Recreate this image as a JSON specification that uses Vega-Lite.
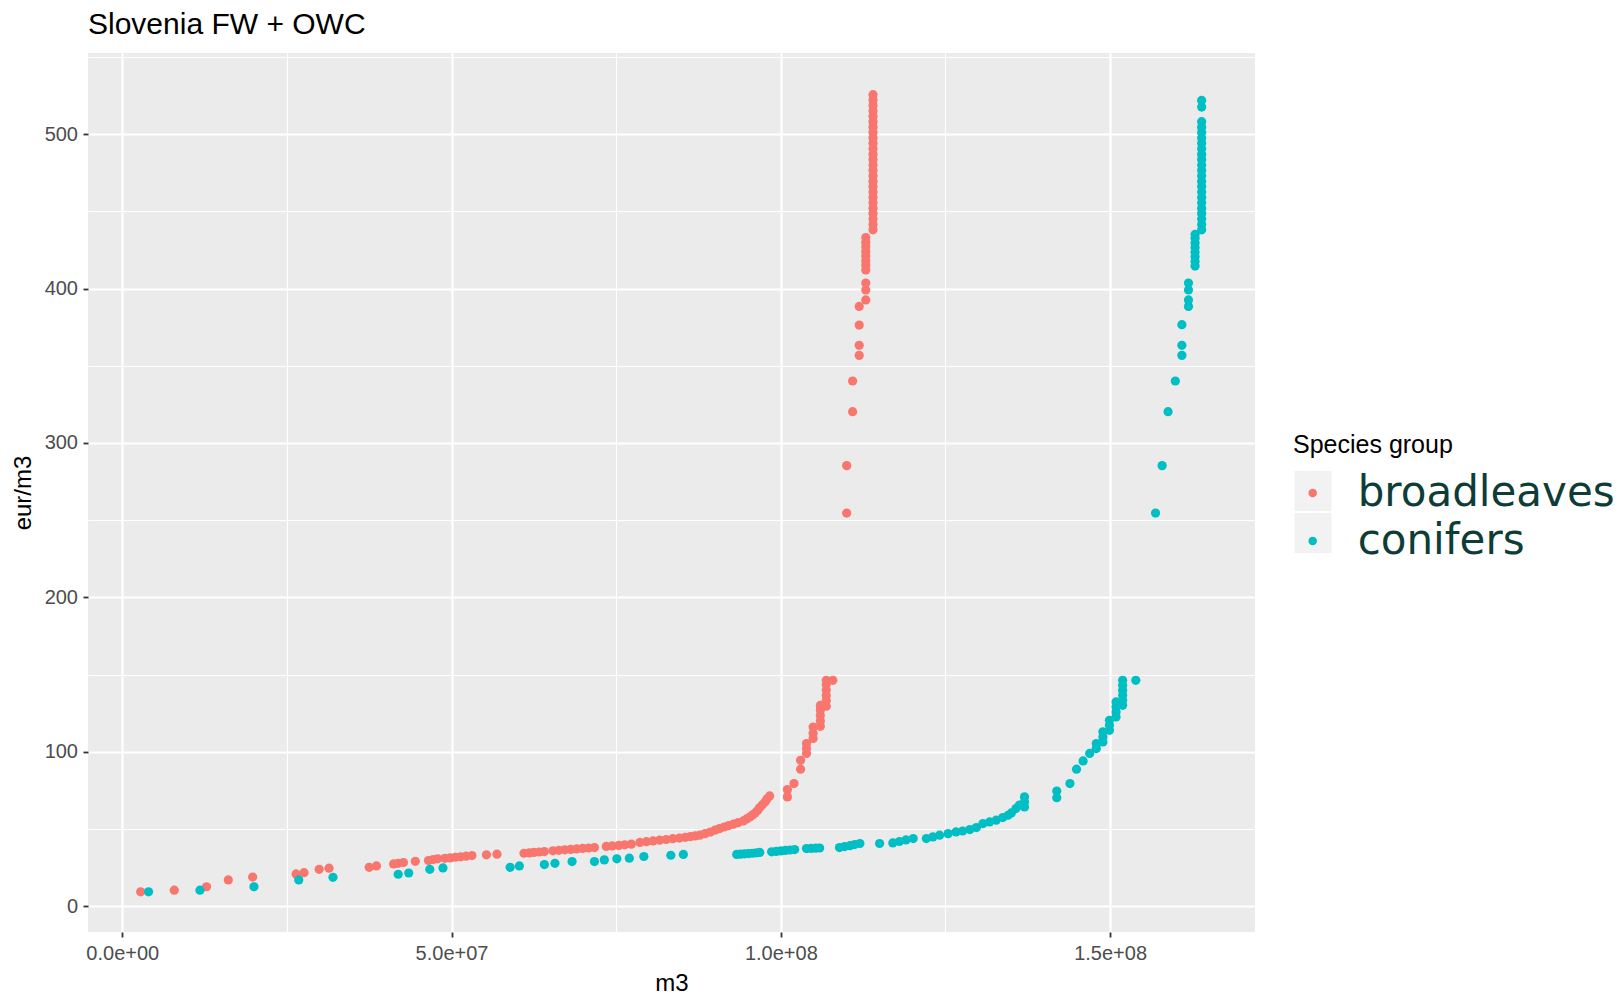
{
  "$schema": "https://vega.github.io/schema/vega-lite/v6.json",
  "width": 1167,
  "height": 879,
  "autosize": {"type": "none"},
  "padding": {"left": 88, "top": 53, "right": 369, "bottom": 64},
  "background": "white",
  "view": {"fill": "#EBEBEB", "stroke": null},
  "title": {"text": "Slovenia FW + OWC", "anchor": "start", "frame": "group", "orient": "top", "offset": -11, "baseline": "alphabetic", "font": "Liberation Sans", "fontSize": 30, "fontWeight": "normal", "color": "#000000"},
  "datasets": {
    "keys": [{"key": "broadleaves"}, {"key": "conifers"}],
    "pts": [
      {"species": "broadleaves", "m3": 2800000, "eur_m3": 9.3},
      {"species": "broadleaves", "m3": 7900000, "eur_m3": 10.4},
      {"species": "broadleaves", "m3": 12800000, "eur_m3": 12.6},
      {"species": "broadleaves", "m3": 16100000, "eur_m3": 17.0},
      {"species": "broadleaves", "m3": 19800000, "eur_m3": 18.9},
      {"species": "broadleaves", "m3": 26400000, "eur_m3": 20.9},
      {"species": "broadleaves", "m3": 27600000, "eur_m3": 21.7},
      {"species": "broadleaves", "m3": 29900000, "eur_m3": 23.9},
      {"species": "broadleaves", "m3": 31400000, "eur_m3": 24.6},
      {"species": "broadleaves", "m3": 37500000, "eur_m3": 25.2},
      {"species": "broadleaves", "m3": 38600000, "eur_m3": 26.1},
      {"species": "broadleaves", "m3": 41200000, "eur_m3": 27.4},
      {"species": "broadleaves", "m3": 41900000, "eur_m3": 27.8},
      {"species": "broadleaves", "m3": 42700000, "eur_m3": 28.3},
      {"species": "broadleaves", "m3": 44500000, "eur_m3": 29.1},
      {"species": "broadleaves", "m3": 46500000, "eur_m3": 29.6},
      {"species": "broadleaves", "m3": 47200000, "eur_m3": 30.2},
      {"species": "broadleaves", "m3": 47900000, "eur_m3": 30.7},
      {"species": "broadleaves", "m3": 49000000, "eur_m3": 31.0},
      {"species": "broadleaves", "m3": 49800000, "eur_m3": 31.3},
      {"species": "broadleaves", "m3": 50600000, "eur_m3": 31.7},
      {"species": "broadleaves", "m3": 51400000, "eur_m3": 32.0},
      {"species": "broadleaves", "m3": 52200000, "eur_m3": 32.4},
      {"species": "broadleaves", "m3": 53100000, "eur_m3": 32.8},
      {"species": "broadleaves", "m3": 55300000, "eur_m3": 33.3},
      {"species": "broadleaves", "m3": 56900000, "eur_m3": 33.7},
      {"species": "broadleaves", "m3": 61000000, "eur_m3": 34.3},
      {"species": "broadleaves", "m3": 61800000, "eur_m3": 34.5},
      {"species": "broadleaves", "m3": 62500000, "eur_m3": 34.8},
      {"species": "broadleaves", "m3": 63300000, "eur_m3": 35.1},
      {"species": "broadleaves", "m3": 64100000, "eur_m3": 35.4},
      {"species": "broadleaves", "m3": 65400000, "eur_m3": 35.9},
      {"species": "broadleaves", "m3": 66300000, "eur_m3": 36.2},
      {"species": "broadleaves", "m3": 67200000, "eur_m3": 36.5},
      {"species": "broadleaves", "m3": 68100000, "eur_m3": 36.8},
      {"species": "broadleaves", "m3": 69000000, "eur_m3": 37.1},
      {"species": "broadleaves", "m3": 69900000, "eur_m3": 37.4},
      {"species": "broadleaves", "m3": 70800000, "eur_m3": 37.7},
      {"species": "broadleaves", "m3": 71700000, "eur_m3": 38.0},
      {"species": "broadleaves", "m3": 73500000, "eur_m3": 38.7},
      {"species": "broadleaves", "m3": 74400000, "eur_m3": 39.0},
      {"species": "broadleaves", "m3": 75400000, "eur_m3": 39.4},
      {"species": "broadleaves", "m3": 76300000, "eur_m3": 39.8},
      {"species": "broadleaves", "m3": 77300000, "eur_m3": 40.2},
      {"species": "broadleaves", "m3": 78600000, "eur_m3": 41.3},
      {"species": "broadleaves", "m3": 79600000, "eur_m3": 41.8},
      {"species": "broadleaves", "m3": 80600000, "eur_m3": 42.3},
      {"species": "broadleaves", "m3": 81600000, "eur_m3": 42.8},
      {"species": "broadleaves", "m3": 82600000, "eur_m3": 43.2},
      {"species": "broadleaves", "m3": 83600000, "eur_m3": 43.7},
      {"species": "broadleaves", "m3": 84600000, "eur_m3": 44.1},
      {"species": "broadleaves", "m3": 85500000, "eur_m3": 44.6},
      {"species": "broadleaves", "m3": 86300000, "eur_m3": 45.1},
      {"species": "broadleaves", "m3": 87000000, "eur_m3": 45.5},
      {"species": "broadleaves", "m3": 87700000, "eur_m3": 46.0},
      {"species": "broadleaves", "m3": 88500000, "eur_m3": 47.0},
      {"species": "broadleaves", "m3": 89300000, "eur_m3": 48.0},
      {"species": "broadleaves", "m3": 90000000, "eur_m3": 49.2},
      {"species": "broadleaves", "m3": 90700000, "eur_m3": 50.3},
      {"species": "broadleaves", "m3": 91400000, "eur_m3": 51.3},
      {"species": "broadleaves", "m3": 92100000, "eur_m3": 52.2},
      {"species": "broadleaves", "m3": 92800000, "eur_m3": 53.1},
      {"species": "broadleaves", "m3": 93500000, "eur_m3": 54.1},
      {"species": "broadleaves", "m3": 94300000, "eur_m3": 55.2},
      {"species": "broadleaves", "m3": 94800000, "eur_m3": 56.5},
      {"species": "broadleaves", "m3": 95300000, "eur_m3": 57.8},
      {"species": "broadleaves", "m3": 95700000, "eur_m3": 59.1},
      {"species": "broadleaves", "m3": 96100000, "eur_m3": 60.4},
      {"species": "broadleaves", "m3": 96500000, "eur_m3": 62.1},
      {"species": "broadleaves", "m3": 96800000, "eur_m3": 63.9},
      {"species": "broadleaves", "m3": 97200000, "eur_m3": 65.7},
      {"species": "broadleaves", "m3": 97600000, "eur_m3": 67.5},
      {"species": "broadleaves", "m3": 97900000, "eur_m3": 69.5},
      {"species": "broadleaves", "m3": 98300000, "eur_m3": 71.4},
      {"species": "broadleaves", "m3": 101000000, "eur_m3": 70.8},
      {"species": "broadleaves", "m3": 101000000, "eur_m3": 75.5},
      {"species": "broadleaves", "m3": 102000000, "eur_m3": 79.4},
      {"species": "broadleaves", "m3": 103000000, "eur_m3": 88.7},
      {"species": "broadleaves", "m3": 103000000, "eur_m3": 94.5},
      {"species": "broadleaves", "m3": 103900000, "eur_m3": 98.9},
      {"species": "broadleaves", "m3": 103900000, "eur_m3": 102.1},
      {"species": "broadleaves", "m3": 103900000, "eur_m3": 105.3},
      {"species": "broadleaves", "m3": 104900000, "eur_m3": 108.6},
      {"species": "broadleaves", "m3": 104900000, "eur_m3": 112.0},
      {"species": "broadleaves", "m3": 104900000, "eur_m3": 116.0},
      {"species": "broadleaves", "m3": 106000000, "eur_m3": 116.5},
      {"species": "broadleaves", "m3": 106000000, "eur_m3": 120.0},
      {"species": "broadleaves", "m3": 106000000, "eur_m3": 123.5},
      {"species": "broadleaves", "m3": 106000000, "eur_m3": 127.0},
      {"species": "broadleaves", "m3": 106000000, "eur_m3": 130.0},
      {"species": "broadleaves", "m3": 106900000, "eur_m3": 129.5},
      {"species": "broadleaves", "m3": 106900000, "eur_m3": 133.0},
      {"species": "broadleaves", "m3": 106900000, "eur_m3": 136.5},
      {"species": "broadleaves", "m3": 106900000, "eur_m3": 140.0},
      {"species": "broadleaves", "m3": 106900000, "eur_m3": 143.5},
      {"species": "broadleaves", "m3": 106900000, "eur_m3": 146.3},
      {"species": "broadleaves", "m3": 107900000, "eur_m3": 146.3},
      {"species": "broadleaves", "m3": 110000000, "eur_m3": 254.6},
      {"species": "broadleaves", "m3": 110000000, "eur_m3": 285.3},
      {"species": "broadleaves", "m3": 110900000, "eur_m3": 320.2},
      {"species": "broadleaves", "m3": 110900000, "eur_m3": 340.1},
      {"species": "broadleaves", "m3": 111900000, "eur_m3": 356.7},
      {"species": "broadleaves", "m3": 111900000, "eur_m3": 363.2},
      {"species": "broadleaves", "m3": 111900000, "eur_m3": 376.3},
      {"species": "broadleaves", "m3": 111900000, "eur_m3": 388.4},
      {"species": "broadleaves", "m3": 112900000, "eur_m3": 392.6},
      {"species": "broadleaves", "m3": 112900000, "eur_m3": 399.1},
      {"species": "broadleaves", "m3": 112900000, "eur_m3": 403.5},
      {"species": "broadleaves", "m3": 112900000, "eur_m3": 412.0},
      {"species": "broadleaves", "m3": 112900000, "eur_m3": 415.0},
      {"species": "broadleaves", "m3": 112900000, "eur_m3": 418.0},
      {"species": "broadleaves", "m3": 112900000, "eur_m3": 421.0},
      {"species": "broadleaves", "m3": 112900000, "eur_m3": 424.0},
      {"species": "broadleaves", "m3": 112900000, "eur_m3": 427.0},
      {"species": "broadleaves", "m3": 112900000, "eur_m3": 430.0},
      {"species": "broadleaves", "m3": 112900000, "eur_m3": 433.0},
      {"species": "broadleaves", "m3": 114000000, "eur_m3": 438.0},
      {"species": "broadleaves", "m3": 114000000, "eur_m3": 441.5},
      {"species": "broadleaves", "m3": 114000000, "eur_m3": 445.0},
      {"species": "broadleaves", "m3": 114000000, "eur_m3": 448.5},
      {"species": "broadleaves", "m3": 114000000, "eur_m3": 452.0},
      {"species": "broadleaves", "m3": 114000000, "eur_m3": 455.5},
      {"species": "broadleaves", "m3": 114000000, "eur_m3": 459.0},
      {"species": "broadleaves", "m3": 114000000, "eur_m3": 462.5},
      {"species": "broadleaves", "m3": 114000000, "eur_m3": 466.0},
      {"species": "broadleaves", "m3": 114000000, "eur_m3": 469.5},
      {"species": "broadleaves", "m3": 114000000, "eur_m3": 473.0},
      {"species": "broadleaves", "m3": 114000000, "eur_m3": 476.5},
      {"species": "broadleaves", "m3": 114000000, "eur_m3": 480.0},
      {"species": "broadleaves", "m3": 114000000, "eur_m3": 483.5},
      {"species": "broadleaves", "m3": 114000000, "eur_m3": 487.0},
      {"species": "broadleaves", "m3": 114000000, "eur_m3": 490.5},
      {"species": "broadleaves", "m3": 114000000, "eur_m3": 494.0},
      {"species": "broadleaves", "m3": 114000000, "eur_m3": 497.5},
      {"species": "broadleaves", "m3": 114000000, "eur_m3": 501.0},
      {"species": "broadleaves", "m3": 114000000, "eur_m3": 504.5},
      {"species": "broadleaves", "m3": 114000000, "eur_m3": 508.0},
      {"species": "broadleaves", "m3": 114000000, "eur_m3": 511.5},
      {"species": "broadleaves", "m3": 114000000, "eur_m3": 515.0},
      {"species": "broadleaves", "m3": 114000000, "eur_m3": 518.5},
      {"species": "broadleaves", "m3": 114000000, "eur_m3": 522.0},
      {"species": "broadleaves", "m3": 114000000, "eur_m3": 525.5},
      {"species": "conifers", "m3": 4000000, "eur_m3": 9.3},
      {"species": "conifers", "m3": 11800000, "eur_m3": 10.4},
      {"species": "conifers", "m3": 20000000, "eur_m3": 12.6},
      {"species": "conifers", "m3": 26800000, "eur_m3": 17.0},
      {"species": "conifers", "m3": 32000000, "eur_m3": 18.7},
      {"species": "conifers", "m3": 41900000, "eur_m3": 20.7},
      {"species": "conifers", "m3": 43500000, "eur_m3": 21.5},
      {"species": "conifers", "m3": 46700000, "eur_m3": 23.9},
      {"species": "conifers", "m3": 48700000, "eur_m3": 24.8},
      {"species": "conifers", "m3": 58900000, "eur_m3": 25.2},
      {"species": "conifers", "m3": 60300000, "eur_m3": 26.1},
      {"species": "conifers", "m3": 64100000, "eur_m3": 27.0},
      {"species": "conifers", "m3": 65700000, "eur_m3": 27.8},
      {"species": "conifers", "m3": 68300000, "eur_m3": 28.9},
      {"species": "conifers", "m3": 71700000, "eur_m3": 28.9},
      {"species": "conifers", "m3": 73200000, "eur_m3": 30.0},
      {"species": "conifers", "m3": 75100000, "eur_m3": 30.7},
      {"species": "conifers", "m3": 77000000, "eur_m3": 31.1},
      {"species": "conifers", "m3": 79200000, "eur_m3": 32.2},
      {"species": "conifers", "m3": 83300000, "eur_m3": 33.0},
      {"species": "conifers", "m3": 85200000, "eur_m3": 33.5},
      {"species": "conifers", "m3": 93300000, "eur_m3": 33.5},
      {"species": "conifers", "m3": 93900000, "eur_m3": 33.7},
      {"species": "conifers", "m3": 94500000, "eur_m3": 33.9},
      {"species": "conifers", "m3": 95100000, "eur_m3": 34.1},
      {"species": "conifers", "m3": 95700000, "eur_m3": 34.3},
      {"species": "conifers", "m3": 96300000, "eur_m3": 34.6},
      {"species": "conifers", "m3": 96800000, "eur_m3": 34.8},
      {"species": "conifers", "m3": 98600000, "eur_m3": 35.2},
      {"species": "conifers", "m3": 99300000, "eur_m3": 35.5},
      {"species": "conifers", "m3": 100000000, "eur_m3": 35.8},
      {"species": "conifers", "m3": 100700000, "eur_m3": 36.1},
      {"species": "conifers", "m3": 101400000, "eur_m3": 36.4},
      {"species": "conifers", "m3": 102100000, "eur_m3": 36.7},
      {"species": "conifers", "m3": 103900000, "eur_m3": 37.3},
      {"species": "conifers", "m3": 104600000, "eur_m3": 37.4},
      {"species": "conifers", "m3": 105300000, "eur_m3": 37.6},
      {"species": "conifers", "m3": 105900000, "eur_m3": 37.7},
      {"species": "conifers", "m3": 108900000, "eur_m3": 38.0},
      {"species": "conifers", "m3": 109700000, "eur_m3": 38.6},
      {"species": "conifers", "m3": 110500000, "eur_m3": 39.2},
      {"species": "conifers", "m3": 111200000, "eur_m3": 39.9},
      {"species": "conifers", "m3": 112000000, "eur_m3": 40.6},
      {"species": "conifers", "m3": 115000000, "eur_m3": 40.6},
      {"species": "conifers", "m3": 117000000, "eur_m3": 41.0},
      {"species": "conifers", "m3": 118000000, "eur_m3": 41.9},
      {"species": "conifers", "m3": 119000000, "eur_m3": 42.9},
      {"species": "conifers", "m3": 120100000, "eur_m3": 43.8},
      {"species": "conifers", "m3": 122100000, "eur_m3": 43.8},
      {"species": "conifers", "m3": 123100000, "eur_m3": 44.9},
      {"species": "conifers", "m3": 124100000, "eur_m3": 46.0},
      {"species": "conifers", "m3": 125400000, "eur_m3": 47.0},
      {"species": "conifers", "m3": 126600000, "eur_m3": 48.1},
      {"species": "conifers", "m3": 127600000, "eur_m3": 48.7},
      {"species": "conifers", "m3": 128700000, "eur_m3": 49.6},
      {"species": "conifers", "m3": 129700000, "eur_m3": 50.9},
      {"species": "conifers", "m3": 130700000, "eur_m3": 53.5},
      {"species": "conifers", "m3": 131700000, "eur_m3": 54.6},
      {"species": "conifers", "m3": 132700000, "eur_m3": 55.7},
      {"species": "conifers", "m3": 133700000, "eur_m3": 57.4},
      {"species": "conifers", "m3": 134500000, "eur_m3": 58.9},
      {"species": "conifers", "m3": 135000000, "eur_m3": 60.4},
      {"species": "conifers", "m3": 135700000, "eur_m3": 63.2},
      {"species": "conifers", "m3": 136200000, "eur_m3": 65.4},
      {"species": "conifers", "m3": 137000000, "eur_m3": 64.3},
      {"species": "conifers", "m3": 137000000, "eur_m3": 67.5},
      {"species": "conifers", "m3": 137000000, "eur_m3": 70.8},
      {"species": "conifers", "m3": 141900000, "eur_m3": 70.3},
      {"species": "conifers", "m3": 141900000, "eur_m3": 74.6},
      {"species": "conifers", "m3": 143900000, "eur_m3": 79.4},
      {"species": "conifers", "m3": 144900000, "eur_m3": 88.7},
      {"species": "conifers", "m3": 145900000, "eur_m3": 94.1},
      {"species": "conifers", "m3": 146900000, "eur_m3": 98.9},
      {"species": "conifers", "m3": 147900000, "eur_m3": 102.1},
      {"species": "conifers", "m3": 147900000, "eur_m3": 105.3},
      {"species": "conifers", "m3": 148900000, "eur_m3": 106.4},
      {"species": "conifers", "m3": 148900000, "eur_m3": 109.6},
      {"species": "conifers", "m3": 148900000, "eur_m3": 112.9},
      {"species": "conifers", "m3": 149900000, "eur_m3": 113.9},
      {"species": "conifers", "m3": 149900000, "eur_m3": 117.2},
      {"species": "conifers", "m3": 149900000, "eur_m3": 120.4},
      {"species": "conifers", "m3": 150900000, "eur_m3": 122.6},
      {"species": "conifers", "m3": 150900000, "eur_m3": 125.8},
      {"species": "conifers", "m3": 150900000, "eur_m3": 129.0},
      {"species": "conifers", "m3": 150900000, "eur_m3": 132.3},
      {"species": "conifers", "m3": 151900000, "eur_m3": 130.1},
      {"species": "conifers", "m3": 151900000, "eur_m3": 133.4},
      {"species": "conifers", "m3": 151900000, "eur_m3": 136.6},
      {"species": "conifers", "m3": 151900000, "eur_m3": 139.8},
      {"species": "conifers", "m3": 151900000, "eur_m3": 143.1},
      {"species": "conifers", "m3": 151900000, "eur_m3": 146.3},
      {"species": "conifers", "m3": 153900000, "eur_m3": 146.3},
      {"species": "conifers", "m3": 156900000, "eur_m3": 254.6},
      {"species": "conifers", "m3": 157900000, "eur_m3": 285.3},
      {"species": "conifers", "m3": 158800000, "eur_m3": 320.2},
      {"species": "conifers", "m3": 159900000, "eur_m3": 340.1},
      {"species": "conifers", "m3": 160900000, "eur_m3": 356.7},
      {"species": "conifers", "m3": 160900000, "eur_m3": 363.2},
      {"species": "conifers", "m3": 160900000, "eur_m3": 376.6},
      {"species": "conifers", "m3": 161900000, "eur_m3": 388.4},
      {"species": "conifers", "m3": 161900000, "eur_m3": 392.6},
      {"species": "conifers", "m3": 161900000, "eur_m3": 399.1},
      {"species": "conifers", "m3": 161900000, "eur_m3": 403.5},
      {"species": "conifers", "m3": 162900000, "eur_m3": 414.5},
      {"species": "conifers", "m3": 162900000, "eur_m3": 417.5},
      {"species": "conifers", "m3": 162900000, "eur_m3": 420.5},
      {"species": "conifers", "m3": 162900000, "eur_m3": 423.5},
      {"species": "conifers", "m3": 162900000, "eur_m3": 426.5},
      {"species": "conifers", "m3": 162900000, "eur_m3": 429.5},
      {"species": "conifers", "m3": 162900000, "eur_m3": 432.5},
      {"species": "conifers", "m3": 162900000, "eur_m3": 435.0},
      {"species": "conifers", "m3": 163900000, "eur_m3": 438.0},
      {"species": "conifers", "m3": 163900000, "eur_m3": 441.5},
      {"species": "conifers", "m3": 163900000, "eur_m3": 445.0},
      {"species": "conifers", "m3": 163900000, "eur_m3": 448.5},
      {"species": "conifers", "m3": 163900000, "eur_m3": 452.0},
      {"species": "conifers", "m3": 163900000, "eur_m3": 455.5},
      {"species": "conifers", "m3": 163900000, "eur_m3": 459.0},
      {"species": "conifers", "m3": 163900000, "eur_m3": 462.5},
      {"species": "conifers", "m3": 163900000, "eur_m3": 466.0},
      {"species": "conifers", "m3": 163900000, "eur_m3": 469.5},
      {"species": "conifers", "m3": 163900000, "eur_m3": 473.0},
      {"species": "conifers", "m3": 163900000, "eur_m3": 476.5},
      {"species": "conifers", "m3": 163900000, "eur_m3": 480.0},
      {"species": "conifers", "m3": 163900000, "eur_m3": 483.5},
      {"species": "conifers", "m3": 163900000, "eur_m3": 487.0},
      {"species": "conifers", "m3": 163900000, "eur_m3": 490.5},
      {"species": "conifers", "m3": 163900000, "eur_m3": 494.0},
      {"species": "conifers", "m3": 163900000, "eur_m3": 497.5},
      {"species": "conifers", "m3": 163900000, "eur_m3": 501.0},
      {"species": "conifers", "m3": 163900000, "eur_m3": 504.5},
      {"species": "conifers", "m3": 163900000, "eur_m3": 508.0},
      {"species": "conifers", "m3": 163900000, "eur_m3": 517.5},
      {"species": "conifers", "m3": 163900000, "eur_m3": 521.8}
    ]
  },
  "layer": [
    {
      "data": {"name": "pts"},
      "mark": {"type": "point", "opacity": 0},
      "encoding": {
        "x": {"field": "m3", "type": "quantitative", "scale": {"domain": [-5200000, 172000000], "nice": false, "zero": false},
          "axis": {"orient": "top", "values": [25000000, 75000000, 125000000], "grid": true, "gridColor": "#FFFFFF", "gridWidth": 1.1, "gridOpacity": 1, "labels": false, "ticks": false, "domain": false, "title": null}},
        "y": {"field": "eur_m3", "type": "quantitative", "scale": {"domain": [-16.7, 552.5], "nice": false, "zero": false},
          "axis": {"orient": "right", "values": [50, 150, 250, 350, 450, 550], "grid": true, "gridColor": "#FFFFFF", "gridWidth": 1.1, "gridOpacity": 1, "labels": false, "ticks": false, "domain": false, "title": null}}
      }
    },
    {
      "data": {"name": "pts"},
      "mark": {"type": "point", "filled": true, "size": 85, "opacity": 1, "strokeWidth": 0},
      "encoding": {
        "x": {"field": "m3", "type": "quantitative",
          "axis": {"orient": "bottom", "values": [0, 50000000, 100000000, 150000000], "labelExpr": "replace(format(datum.value, '.1e'), 'e+', 'e+0')", "grid": true, "gridColor": "#FFFFFF", "gridWidth": 2.2, "gridOpacity": 1, "domain": false, "tickColor": "#333333", "tickSize": 5, "tickWidth": 1.8, "labelFont": "Liberation Sans", "labelFontSize": 20, "labelColor": "#4D4D4D", "labelPadding": 6.5, "labelFlush": false, "labelOverlap": false, "title": "m3", "titleFont": "Liberation Sans", "titleFontSize": 24, "titleFontWeight": "normal", "titleColor": "#000000", "titlePadding": 8}},
        "y": {"field": "eur_m3", "type": "quantitative",
          "axis": {"orient": "left", "values": [0, 100, 200, 300, 400, 500], "grid": true, "gridColor": "#FFFFFF", "gridWidth": 2.2, "gridOpacity": 1, "domain": false, "tickColor": "#333333", "tickSize": 5, "tickWidth": 1.8, "labelFont": "Liberation Sans", "labelFontSize": 20, "labelColor": "#4D4D4D", "labelPadding": 5.5, "labelOverlap": false, "title": "eur/m3", "titleFont": "Liberation Sans", "titleFontSize": 24, "titleFontWeight": "normal", "titleColor": "#000000", "titlePadding": 9}},
        "color": {"field": "species", "type": "nominal",
          "scale": {"domain": ["broadleaves", "conifers"], "range": ["#F8766D", "#00BFC4"]},
          "legend": {"title": "Species group", "orient": "none", "legendX": 1205, "legendY": 380, "padding": 0, "zindex": 2,
            "titleFont": "Liberation Sans", "titleFontSize": 25, "titleFontWeight": "normal", "titleColor": "#000000", "titlePadding": 14,
            "labelFont": "DejaVu Sans", "labelFontSize": 42, "labelColor": "#0E3D38", "labelBaseline": "middle", "labelOffset": 24, "labelLimit": 500,
            "symbolType": "circle", "symbolSize": 72, "symbolStrokeWidth": 0, "symbolOffset": -1.3, "symbolOpacity": 1, "rowPadding": 6}}
      }
    },
    {
      "data": {"name": "keys"},
      "mark": {"type": "point", "filled": true, "size": 0, "opacity": 1},
      "encoding": {
        "fill": {"field": "key", "type": "nominal",
          "scale": {"range": ["#F2F2F2", "#F2F2F2"]},
          "legend": {"title": null, "orient": "none", "legendX": 1205, "legendY": 418, "padding": 0, "zindex": 1,
            "labelExpr": "''", "labelOpacity": 0, "labelFontSize": 8, "symbolType": "M-0.925,-1H0.925V1H-0.925Z", "symbolSize": 1600, "symbolStrokeWidth": 0, "symbolOffset": 0, "symbolOpacity": 1, "rowPadding": 2}}
      }
    }
  ],
  "config": {
    "view": {"fill": "#EBEBEB", "stroke": null},
    "font": "Liberation Sans"
  }
}
